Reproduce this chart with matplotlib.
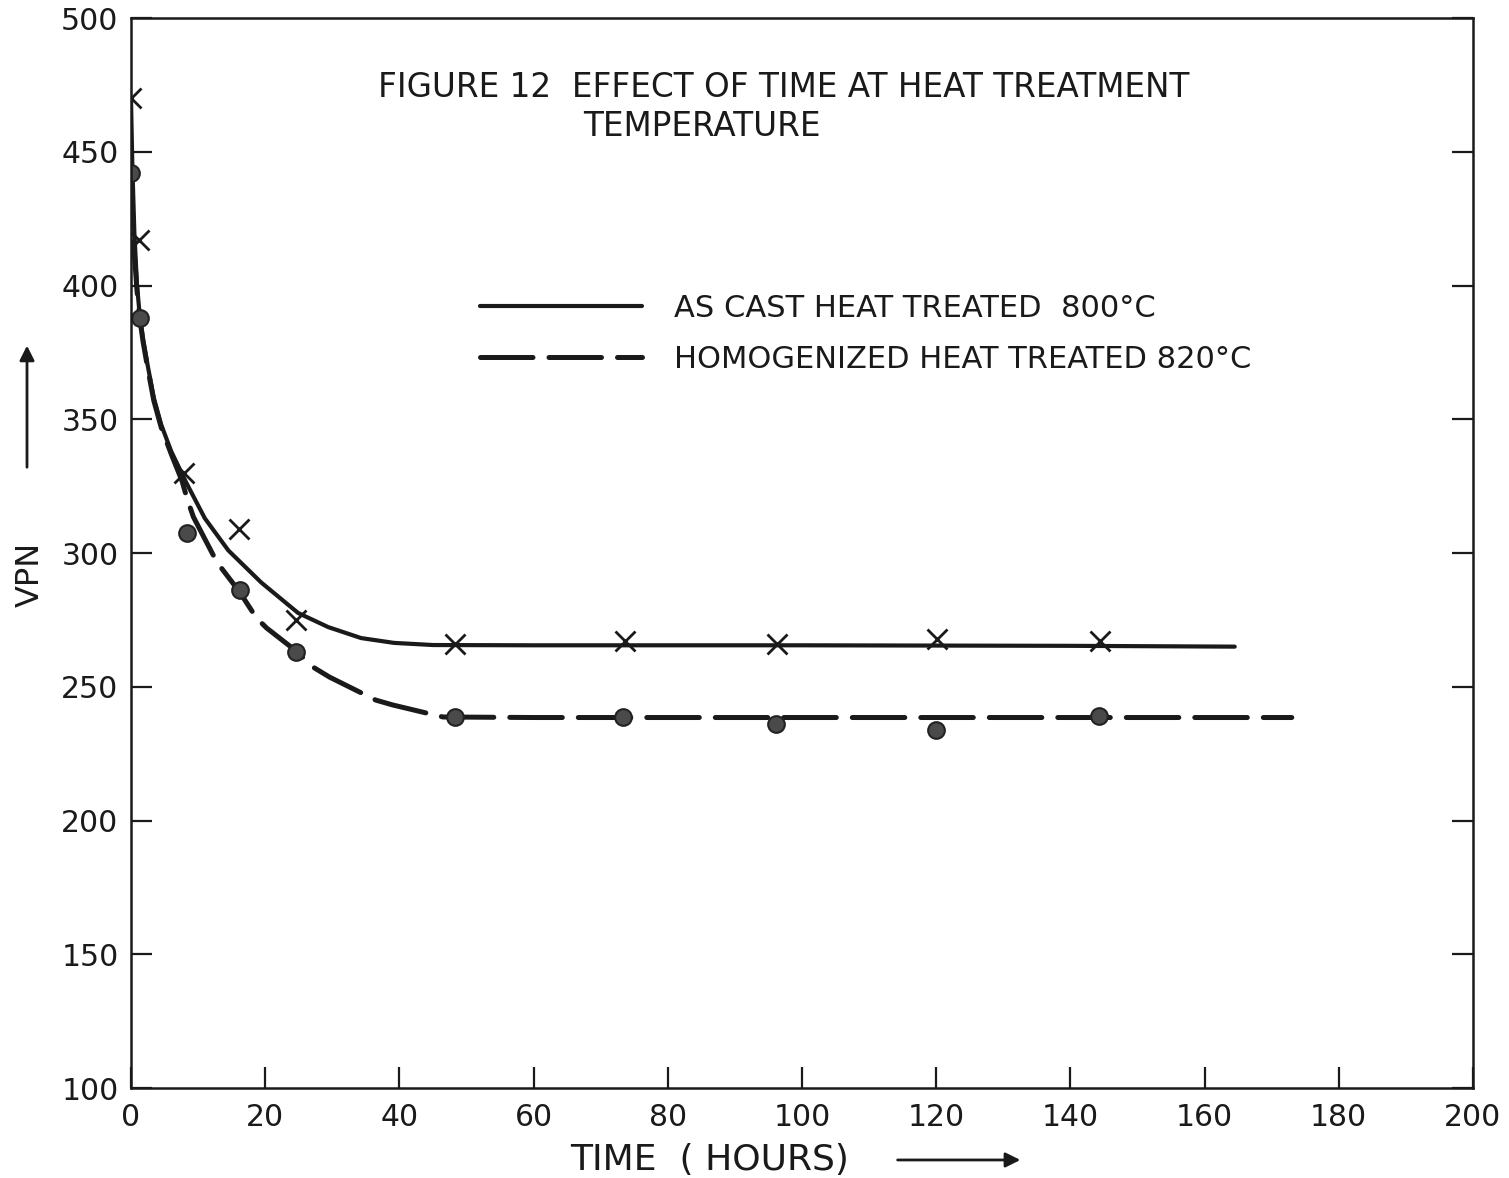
import numpy as np
import matplotlib
matplotlib.use('Agg')
import matplotlib.pyplot as plt

time_cast = [0, 1.2, 7.9, 16.1, 24.6, 48.3, 73.6, 96.3, 120.1, 144.4]
vpn_cast = [470, 417, 330, 309, 275, 266, 267, 266, 268, 267]

time_homog = [0, 1.3, 8.3, 16.2, 24.6, 48.3, 73.4, 96.2, 120.0, 144.3]
vpn_homog = [442, 388, 307.5, 286, 263, 238.7, 238.7, 236, 234, 239]

# hand drawn fitted curves
curve_cast_t = [0, 0.2, 0.5, 0.9, 1.3, 1.8, 2.5, 3.4, 4.5, 6.0, 8.2, 11, 14.5, 19.4,
                24.9, 29.4, 34.3, 39.2, 45, 60, 100, 140, 164.5]
curve_cast_v = [470, 445, 420, 400, 389, 380, 370, 358, 348, 338, 326.5, 313, 301, 289,
                277.6, 272.3, 268.2, 266.4, 265.6, 265.5, 265.5, 265.3, 265]

curve_homog_t = [0, 0.2, 0.5, 0.9, 1.3, 1.8, 2.5, 3.4, 4.5, 6.0, 7.6, 8.4, 9.3, 12.8,
                 16.2, 18.7, 20.2, 24.8, 27.1, 29.6, 36.5, 39, 46.5, 60, 100, 140, 173]
curve_homog_v = [442, 428, 412, 398, 388, 379, 369, 357, 347, 337, 327, 320, 313.5, 296.6,
                 285.4, 275.7, 272, 263, 257.4, 253.6, 245, 243.2, 238.7, 238.5, 238.5, 238.5, 238.5]

x_ticks = [0, 20, 40, 60, 80, 100, 120, 140, 160, 180, 200]
y_ticks = [100, 150, 200, 250, 300, 350, 400, 450, 500]

INK = '#1a1a1a'
plt.rcParams['font.family'] = ['DejaVu Sans']

fig = plt.figure(figsize=(15.09, 11.78), dpi=100)
ax = fig.add_axes([0.0868, 0.0764, 0.8893, 0.9083])

ax.plot(curve_cast_t, curve_cast_v, ls='-', lw=3.0, color=INK,
        solid_capstyle='round', solid_joinstyle='round',
        label='AS CAST HEAT TREATED  800°C')
ax.plot(curve_homog_t, curve_homog_v, ls=(0, (10.5, 3.2)), lw=3.6, color=INK,
        dash_capstyle='round', dash_joinstyle='round',
        label='HOMOGENIZED HEAT TREATED 820°C')

ax.plot(time_cast, vpn_cast, ls='none', marker='x', ms=14, mew=2.0, color=INK)
ax.plot(time_homog, vpn_homog, ls='none', marker='o', ms=12,
        mfc='#4a4a4a', mec='#222222', mew=1.5)

ax.set_xlim(0, 200)
ax.set_ylim(100, 500)
ax.set_xticks(x_ticks)
ax.set_yticks(y_ticks)
ax.tick_params(direction='in', length=15, width=1.6, labelsize=21.5,
               colors=INK, right=True, labelright=False)
ax.tick_params(axis='x', pad=11)
ax.tick_params(axis='y', pad=9)
for s in ax.spines.values():
    s.set_linewidth(1.8)
    s.set_color(INK)

leg = ax.legend(loc='upper left', bbox_to_anchor=(0.26, 0.742), frameon=False,
                fontsize=22, handlelength=5.3, handletextpad=1.05,
                labelspacing=0.72, borderpad=0, borderaxespad=0)
for t in leg.get_texts():
    t.set_color(INK)

fig.text(0.2505, 0.926, 'FIGURE 12  EFFECT OF TIME AT HEAT TREATMENT',
         fontsize=23.5, ha='left', va='center', color=INK)
fig.text(0.3863, 0.893, 'TEMPERATURE', fontsize=23.5, ha='left', va='center', color=INK)

# axis labels with arrows
fig.text(0.0199, 0.512, 'VPN', rotation=90, fontsize=23, ha='center', va='center', color=INK)
fig.text(0.4705, 0.0153, 'TIME  ( HOURS)', fontsize=26, ha='center', va='center', color=INK)
arrow = dict(arrowstyle='-|>', lw=2, color=INK, mutation_scale=22)
ax.annotate('', xy=(0.0179, 0.709), xytext=(0.0179, 0.601), xycoords='figure fraction',
            textcoords='figure fraction', arrowprops=arrow, annotation_clip=False)
ax.annotate('', xy=(0.678, 0.0153), xytext=(0.593, 0.0153), xycoords='figure fraction',
            textcoords='figure fraction', arrowprops=arrow, annotation_clip=False)

fig.savefig('out.png', dpi=100, facecolor='white')
